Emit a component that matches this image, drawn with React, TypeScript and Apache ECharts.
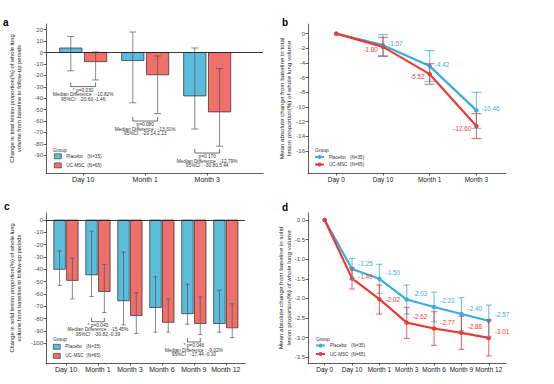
import React, { useEffect, useRef } from 'react';
import * as echarts from 'echarts';

const FONT = 'Liberation Sans, Arial, sans-serif';
const BAR_BLUE = '#5BBDDC';
const BAR_RED = '#EF6F6A';
const LINE_BLUE = '#37AEDC';
const LINE_RED = '#EC3B35';

// Panel a: total lesion proportion change (%)
const catsA = ['Day 10', 'Month 1', 'Month 3'];
const placeboA = [4, -7, -38];
const placeboALo = [-16, -44, -67];
const placeboAHi = [14, 18, 4];
const mscA = [-8, -19.5, -52];
const mscALo = [-24, -53.5, -82];
const mscAHi = [0.5, -3, -14];
const annACat = [0, 1, 2];
const annAY = [-29.8, -60, -88];
const annAText = [
  ['* p=0.030', 'Median Difference : -10.82%', '95%CI : -20.60,-1.46'],
  ['p=0.080', 'Median Difference : -13.31%', '95%CI : -20.14,2.13'],
  ['p=0.170', 'Median Difference : -12.79%', '95%CI : -30.80,5.44'],
];
const ticksA = [20, 10, 0, -10, -20, -30, -40, -50, -60, -70, -80, -90];

// Panel b: mean absolute change, total lesion
const catsB = ['Day 0', 'Day 10', 'Month 1', 'Month 3'];
const placeboB = [0, -1.57, -4.42, -10.46];
const placeboBLo = [0, -3.0, -6.5, -12.9];
const placeboBHi = [0, -0.13, -2.3, -8.0];
const mscB = [0, -1.8, -5.52, -12.6];
const mscBLo = [0, -3.1, -6.9, -14.3];
const mscBHi = [0, -0.5, -4.1, -10.9];
const ticksB = [0, -2, -4, -6, -8, -10, -12, -14, -16];

// Panel c: solid lesion proportion change (%)
const catsC = ['Day 10', 'Month 1', 'Month 3', 'Month 6', 'Month 9', 'Month 12'];
const placeboC = [-40, -44.5, -65.5, -71, -76, -84];
const placeboCLo = [-53, -62, -85, -91, -84.5, -91];
const placeboCHi = [-25, -9, -26, -46, -52, -57];
const mscC = [-49, -58, -77.5, -83, -84, -87.5];
const mscCLo = [-64, -75, -92, -91, -93, -95.5];
const mscCHi = [-31, -36, -59, -64, -62.5, -68];
const annCCat = [1, 4];
const annCY = [-82.5, -99];
const annCText = [
  ['* p=0.043', 'Median Difference : -15.45%', '95%CI : -30.82,-0.39'],
  ['* p=0.046', 'Median Difference : -9.02%', '95%CI : -17.44,-0.10'],
];
const ticksC = [0, -10, -20, -30, -40, -50, -60, -70, -80, -90, -100];

// Panel d: mean absolute change, solid lesion
const catsD = ['Day 0', 'Day 10', 'Month 1', 'Month 3', 'Month 6', 'Month 9', 'Month 12'];
const placeboD = [0, -1.25, -1.5, -2.03, -2.22, -2.4, -2.57];
const placeboDLo = [0, -1.52, -1.87, -2.4, -2.6, -2.82, -2.97];
const placeboDHi = [0, -0.98, -1.13, -1.66, -1.84, -1.98, -2.17];
const mscD = [0, -1.49, -2.02, -2.62, -2.77, -2.88, -3.01];
const mscDLo = [0, -1.76, -2.4, -3.02, -3.2, -3.3, -3.47];
const mscDHi = [0, -1.22, -1.66, -2.23, -2.34, -2.46, -2.55];
const mscDLabelDy = [0, -2, 0, -6, -6, -6, -6];
const ticksD = [0, -0.5, -1, -1.5, -2, -2.5, -3, -3.5];

const GROUPS: Record<string, string> = { Placebo: '(N=35)', 'UC-MSC': '(N=65)' };

function xAxis(idx: number, min: number, max: number, cats: string[], fs: number) {
  const vals = cats.map((_, i) => i);
  return {
    type: 'value', gridIndex: idx, min, max,
    splitLine: { show: false },
    axisLine: { show: true, onZero: false, lineStyle: { color: '#333', width: 0.8 } },
    axisTick: { show: true, length: 2.5, customValues: vals, lineStyle: { color: '#333', width: 0.8 } },
    axisLabel: {
      customValues: vals, margin: 3, fontSize: fs, color: '#222', fontFamily: FONT,
      formatter: (v: number) => cats[Math.round(v)] ?? '',
    },
  };
}

function yAxis(idx: number, min: number, max: number, ticks: number[], digits: number) {
  return {
    type: 'value', gridIndex: idx, min, max,
    splitLine: { show: false },
    axisLine: { show: true, onZero: false, lineStyle: { color: '#333', width: 0.8 } },
    axisTick: { show: true, length: 2.5, customValues: ticks, lineStyle: { color: '#333', width: 0.8 } },
    axisLabel: {
      customValues: ticks, margin: 3, fontSize: 6, color: '#4d4d4d', fontFamily: FONT,
      formatter: (v: number) => v.toFixed(digits),
    },
  };
}

function barSeries(name: string, color: string, gi: number, vals: number[], lo: number[], hi: number[], offset: number, zeroLine: boolean, capHalf: number) {
  const halfW = 0.18;
  const s: any = {
    type: 'custom', name, xAxisIndex: gi, yAxisIndex: gi,
    itemStyle: { color, borderColor: '#2a2a2a', borderWidth: 0.7 },
    data: vals.map((v, i) => [i, v, lo[i], hi[i]]),
    encode: { x: 0, y: [1, 2, 3] },
    z: 2,
    renderItem: (params: any, api: any) => {
      const x = api.value(0) + offset;
      const v = api.value(1);
      const a = api.coord([x - halfW, 0]);
      const b = api.coord([x + halfW, v]);
      const top = api.coord([x, api.value(3)]);
      const bot = api.coord([x, api.value(2)]);
      const es = { stroke: '#555', lineWidth: 0.7 };
      return {
        type: 'group',
        children: [
          { type: 'rect', shape: { x: a[0], y: Math.min(a[1], b[1]), width: b[0] - a[0], height: Math.abs(b[1] - a[1]) }, style: { fill: color, stroke: '#2a2a2a', lineWidth: 0.7 } },
          { type: 'line', shape: { x1: top[0], y1: top[1], x2: bot[0], y2: bot[1] }, style: es },
          { type: 'line', shape: { x1: top[0] - capHalf, y1: top[1], x2: top[0] + capHalf, y2: top[1] }, style: es },
          { type: 'line', shape: { x1: bot[0] - capHalf, y1: bot[1], x2: bot[0] + capHalf, y2: bot[1] }, style: es },
        ],
      };
    },
  };
  if (zeroLine) {
    s.markLine = {
      silent: true, symbol: 'none', label: { show: false }, z: 5,
      lineStyle: { color: '#222', width: 0.9, type: 'solid' },
      data: [{ yAxis: 0 }],
    };
  }
  return s;
}

function annSeries(gi: number, cats: number[], ys: number[], texts: string[][]) {
  return {
    type: 'custom', xAxisIndex: gi, yAxisIndex: gi, silent: true, z: 6,
    data: cats.map((c, i) => [c, ys[i], i]),
    encode: { x: 0, y: 1 },
    renderItem: (params: any, api: any) => {
      const c = api.value(0);
      const y = api.value(1);
      const idx = api.value(2);
      const l = api.coord([c - 0.2, y]);
      const r = api.coord([c + 0.2, y]);
      const mid = api.coord([c, y]);
      const st = { stroke: '#333', lineWidth: 0.7 };
      const lines = texts[idx];
      const children: any[] = [
        { type: 'line', shape: { x1: l[0], y1: l[1], x2: r[0], y2: r[1] }, style: st },
        { type: 'line', shape: { x1: l[0], y1: l[1], x2: l[0], y2: l[1] - 4 }, style: st },
        { type: 'line', shape: { x1: r[0], y1: r[1], x2: r[0], y2: r[1] - 4 }, style: st },
      ];
      lines.forEach((t, k) => {
        children.push({
          type: 'text', x: mid[0], y: mid[1] + 3.5 + k * 4.6,
          style: { text: t, fill: '#333', fontSize: 4.8, fontFamily: FONT, align: 'center', verticalAlign: 'middle' },
        });
      });
      return { type: 'group', children };
    },
  };
}

function lineSeries(name: string, color: string, gi: number, vals: number[], pos: string, dx: number, dys: number[]) {
  return {
    type: 'line', name, xAxisIndex: gi, yAxisIndex: gi,
    symbol: 'circle', symbolSize: 4.5, z: 3,
    itemStyle: { color },
    lineStyle: { color, width: 2.2 },
    data: vals.map((v, i) => ({ value: [i, v], label: { offset: [dx, dys[i]] } })),
    label: {
      show: true, position: pos, distance: 3, fontSize: 6.3, color, fontFamily: FONT,
      formatter: (p: any) => (p.value[1] === 0 ? '' : p.value[1].toFixed(2)),
    },
  };
}

function errSeries(color: string, gi: number, lo: number[], hi: number[], capHalf: number) {
  return {
    type: 'custom', xAxisIndex: gi, yAxisIndex: gi, silent: true, z: 4,
    data: lo.map((l, i) => [i, l, hi[i]]),
    encode: { x: 0, y: [1, 2] },
    renderItem: (params: any, api: any) => {
      const x = api.value(0);
      const l = api.value(1);
      const h = api.value(2);
      if (l === h) return { type: 'group', children: [] };
      const a = api.coord([x, h]);
      const b = api.coord([x, l]);
      const st = { stroke: color, lineWidth: 1.1 };
      return {
        type: 'group',
        children: [
          { type: 'line', shape: { x1: a[0], y1: a[1], x2: b[0], y2: b[1] }, style: st },
          { type: 'line', shape: { x1: a[0] - capHalf, y1: a[1], x2: a[0] + capHalf, y2: a[1] }, style: st },
          { type: 'line', shape: { x1: b[0] - capHalf, y1: b[1], x2: b[0] + capHalf, y2: b[1] }, style: st },
        ],
      };
    },
  };
}

function legend(names: string[], colors: string[] | null, left: number, top: number, icon: string | undefined, iw: number, ih: number, gap: number) {
  const l: any = {
    data: names.map((n, i) => (colors ? { name: n, itemStyle: { color: colors[i], borderColor: '#2a2a2a', borderWidth: 0.6 } } : { name: n })),
    left, top, orient: 'vertical', itemWidth: iw, itemHeight: ih, itemGap: gap, padding: 0,
    selectedMode: false,
    textStyle: {
      fontSize: 4.6, color: '#333', fontFamily: FONT,
      rich: { n: { width: 21, fontSize: 4.6, fontFamily: FONT, color: '#333' }, m: { fontSize: 4.6, fontFamily: FONT, color: '#333' } },
    },
    formatter: (name: string) => {
      const base = name.split('_')[0];
      return `{n|${base}}{m|${GROUPS[base]}}`;
    },
  };
  if (icon) l.icon = icon;
  return l;
}

function title(text: string, x: number, y: number, fs: number) {
  return {
    type: 'text', x, y, rotation: Math.PI / 2,
    style: { text, fill: '#222', fontSize: fs, lineHeight: fs + 1.3, fontFamily: FONT, align: 'center', verticalAlign: 'middle' },
  };
}

function letter(text: string, x: number, y: number) {
  return { type: 'text', x, y, style: { text, fill: '#000', fontSize: 10, fontWeight: 'bold', fontFamily: FONT, verticalAlign: 'middle' } };
}

function groupText(x: number, y: number) {
  return { type: 'text', x, y, style: { text: 'Group', fill: '#333', fontSize: 5, fontFamily: FONT, verticalAlign: 'middle' } };
}

export default function App() {
  const ref = useRef<HTMLDivElement>(null);
  useEffect(() => {
    if (!ref.current) return;
    const chart = echarts.init(ref.current, undefined, { renderer: 'svg' });
    const option: any = {
      animation: false,
      backgroundColor: '#fff',
      textStyle: { fontFamily: FONT },
      grid: [
        { left: 46, top: 24, width: 217, height: 149 },
        { left: 308, top: 24, width: 198, height: 149 },
        { left: 46, top: 213, width: 199, height: 150 },
        { left: 308, top: 213, width: 198, height: 150 },
      ],
      xAxis: [
        xAxis(0, -0.6, 2.9, catsA, 7),
        xAxis(1, -0.606, 3.634, catsB, 6.5),
        xAxis(2, -0.625, 5.6, catsC, 7),
        xAxis(3, -0.61, 6.63, catsD, 6.5),
      ],
      yAxis: [
        yAxis(0, -105.5, 25, ticksA, 0),
        yAxis(1, -19, 1.32, ticksB, 0),
        yAxis(2, -116, 5.7, ticksC, 0),
        yAxis(3, -3.65, 0.18, ticksD, 1),
      ],
      legend: [
        legend(['Placebo_a', 'UC-MSC_a'], [BAR_BLUE, BAR_RED], 54, 153.5, 'rect', 7, 5, 3.5),
        legend(['Placebo_b', 'UC-MSC_b'], null, 314, 154.5, undefined, 9, 5, 2.5),
        legend(['Placebo_c', 'UC-MSC_c'], [BAR_BLUE, BAR_RED], 53, 344, 'rect', 7, 5, 3.5),
        legend(['Placebo_d', 'UC-MSC_d'], null, 315, 343, undefined, 9, 5, 3.5),
      ],
      series: [
        barSeries('Placebo_a', BAR_BLUE, 0, placeboA, placeboALo, placeboAHi, -0.2, true, 3.5),
        barSeries('UC-MSC_a', BAR_RED, 0, mscA, mscALo, mscAHi, 0.2, false, 3.5),
        annSeries(0, annACat, annAY, annAText),
        barSeries('Placebo_c', BAR_BLUE, 2, placeboC, placeboCLo, placeboCHi, -0.2, true, 2.2),
        barSeries('UC-MSC_c', BAR_RED, 2, mscC, mscCLo, mscCHi, 0.2, false, 2.2),
        annSeries(2, annCCat, annCY, annCText),
        lineSeries('Placebo_b', LINE_BLUE, 1, placeboB, 'right', 0, placeboB.map(() => -2)),
        lineSeries('UC-MSC_b', LINE_RED, 1, mscB, 'left', 0, mscB.map(() => 2.5)),
        errSeries('rgba(70,180,222,0.8)', 1, placeboBLo, placeboBHi, 5),
        errSeries('rgba(205,55,55,0.7)', 1, mscBLo, mscBHi, 5),
        lineSeries('Placebo_d', LINE_BLUE, 3, placeboD, 'right', 1, placeboD.map(() => -6)),
        lineSeries('UC-MSC_d', LINE_RED, 3, mscD, 'right', 1, mscDLabelDy),
        errSeries('rgba(70,180,222,0.8)', 3, placeboDLo, placeboDHi, 3),
        errSeries('rgba(225,60,55,0.75)', 3, mscDLo, mscDHi, 3),
      ],
      graphic: [
        letter('a', 3, 22),
        letter('b', 282, 22),
        letter('c', 4, 206),
        letter('d', 282, 207),
        title('Change in total lesion proportion(%) of whole lung\nvolume from baseline to follow-up periods', 15.5, 98.5, 5.8),
        title('Mean absolute change from baseline in total\nlesion proportion(%) of whole lung volume', 285, 98.5, 6.2),
        title('Change in solid lesion proportion(%) of whole lung\nvolume from baseline to follow-up periods', 15.5, 288, 5.8),
        title('Mean absolute change from baseline in solid\nlesion proportion(%) of whole lung volume', 284.5, 288, 6.2),
        groupText(53, 150),
        groupText(315, 150),
        groupText(53, 339),
        groupText(316, 339),
      ],
    };
    chart.setOption(option);
    return () => chart.dispose();
  }, []);
  return <div ref={ref} style={{ position: 'absolute', left: 0, top: 0, width: 554, height: 384 }} />;
}
